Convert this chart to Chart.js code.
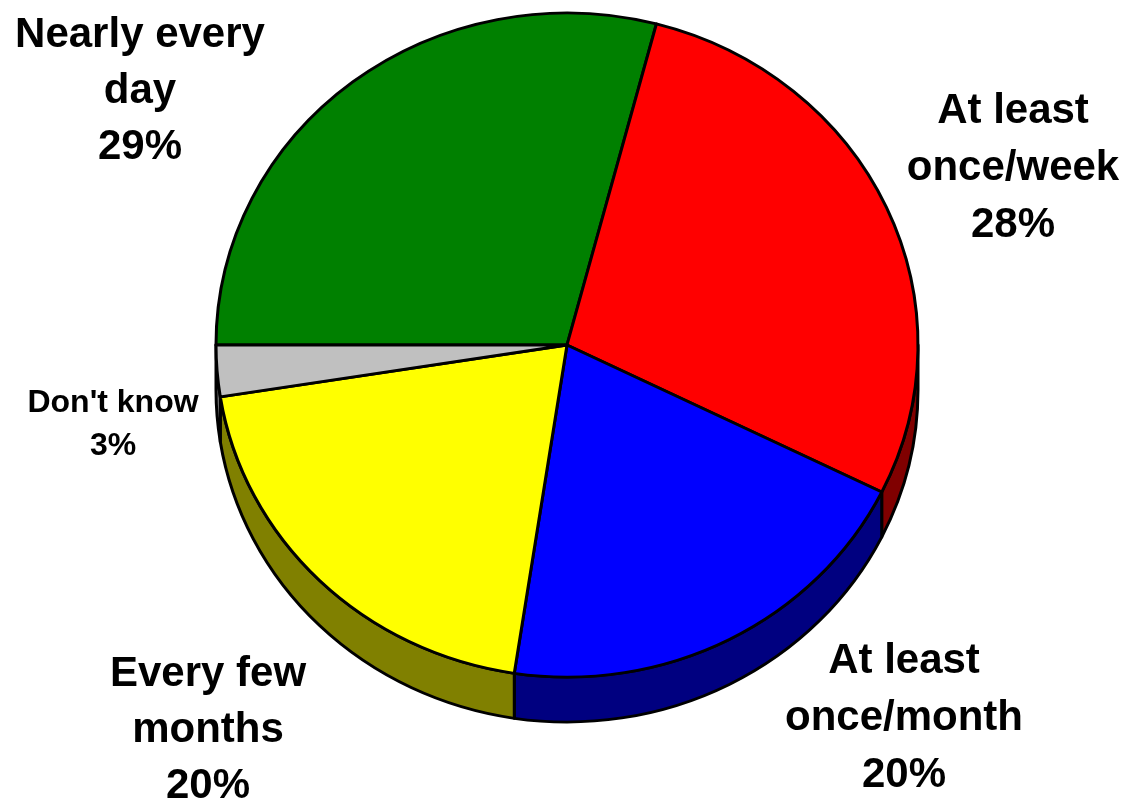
<!DOCTYPE html>
<html>
<head>
<meta charset="utf-8">
<script src="https://cdn.jsdelivr.net/npm/chart.js@4.4.1/dist/chart.umd.min.js"></script>
<style>
  html, body { margin: 0; padding: 0; background: #fff; }
  canvas { display: block; }
</style>
</head>
<body>
<canvas id="pie" width="1130" height="804"></canvas>
<script>
// data
const categories = ["Nearly every\nday", "At least\nonce/week", "At least\nonce/month", "Every few\nmonths", "Don't know"];
const shares = [29.1, 28.2, 20.1, 20.1, 2.5];
const pctLabels = ["29%", "28%", "20%", "20%", "3%"];
const topColors = ["#008000", "#ff0000", "#0000ff", "#ffff00", "#c0c0c0"];
const sideColors = ["#004000", "#800000", "#000080", "#808000", "#808080"];

// layout for the 3d look and the labels
const tilt = 0.946;      // vertical squash of the pie
const depth = 45;        // thickness in screen px
const labelSpots = [
    { x: 140, y: 47, size: 42, gap: 56 },
    { x: 1013, y: 123, size: 42, gap: 57 },
    { x: 904, y: 673, size: 42, gap: 57 },
    { x: 208, y: 686, size: 42, gap: 56 },
    { x: 113, y: 412, size: 32, gap: 43 }
];

// squash the canvas and draw the side walls before the top faces
const pie3d = {
    id: "pie3d",
    beforeDatasetsDraw(chart) {
        const ctx = chart.ctx;
        const arcs = chart.getDatasetMeta(0).data;
        if (!arcs.length) return;
        const cx = arcs[0].x, cy = arcs[0].y, r = arcs[0].outerRadius;
        ctx.save();
        ctx.translate(cx, cy);
        ctx.scale(1, tilt);
        ctx.translate(-cx, -cy);
        const d = depth / tilt;
        arcs.forEach((arc, i) => {
            // visible part of the rim is where the angle lies in [0, PI]
            for (let k = -1; k <= 2; k++) {
                const lo = Math.max(arc.startAngle, 2 * Math.PI * k);
                const hi = Math.min(arc.endAngle, 2 * Math.PI * k + Math.PI);
                if (hi <= lo) continue;
                ctx.beginPath();
                ctx.arc(cx, cy, r, lo, hi);
                ctx.arc(cx, cy + d, r, hi, lo, true);
                ctx.closePath();
                ctx.fillStyle = sideColors[i];
                ctx.fill();
                ctx.lineWidth = 3;
                ctx.lineJoin = "round";
                ctx.strokeStyle = "#000";
                ctx.stroke();
            }
        });
    },
    afterDatasetsDraw(chart) {
        chart.ctx.restore();
    },
    afterDraw(chart) {
        const ctx = chart.ctx;
        ctx.save();
        ctx.fillStyle = "#000";
        ctx.textAlign = "center";
        ctx.textBaseline = "alphabetic";
        categories.forEach((cat, i) => {
            const spot = labelSpots[i];
            const lines = cat.split("\n").concat([pctLabels[i]]);
            ctx.font = "bold " + spot.size + "px 'Liberation Sans', Arial, sans-serif";
            lines.forEach((txt, j) => {
                ctx.fillText(txt, spot.x, spot.y + j * spot.gap);
            });
        });
        ctx.restore();
    }
};

new Chart(document.getElementById("pie"), {
    type: "pie",
    data: {
        labels: categories,
        datasets: [{
            data: shares,
            backgroundColor: topColors,
            borderColor: "#000",
            borderWidth: 3,
            borderJoinStyle: "round",
            clip: false
        }]
    },
    options: {
        responsive: false,
        animation: false,
        rotation: 270,
        radius: 351,
        layout: { padding: { left: 4, right: 0, top: 0, bottom: 114 } },
        plugins: {
            legend: { display: false },
            tooltip: { enabled: false }
        }
    },
    plugins: [pie3d]
});
</script>
</body>
</html>
